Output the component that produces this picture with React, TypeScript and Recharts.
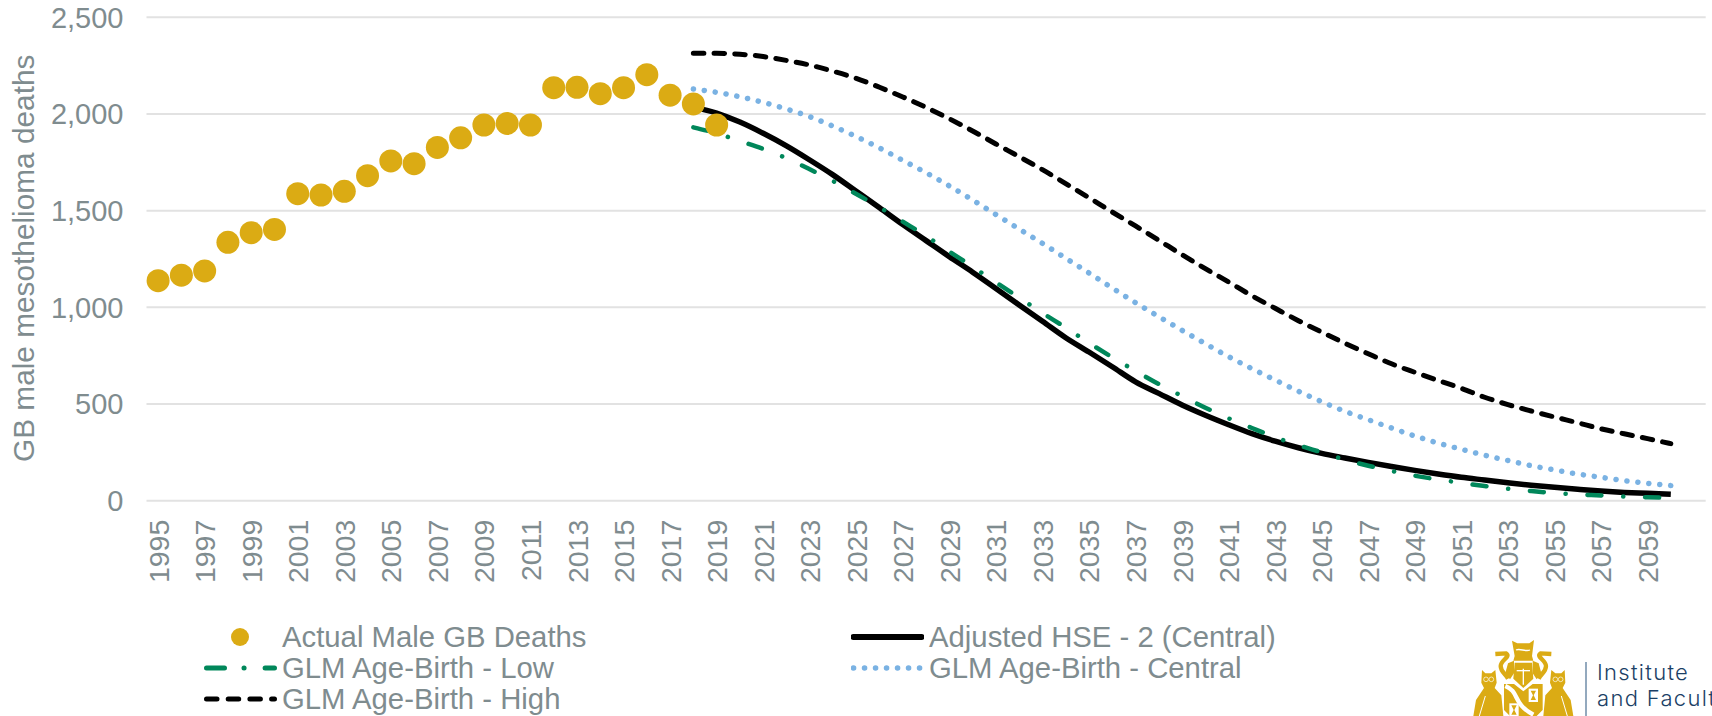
import React from "react";
import {
  ComposedChart,
  Line,
  XAxis,
  YAxis,
  CartesianGrid,
  Legend,
} from "recharts";

const FIRST_YEAR = 1995;
const LAST_YEAR = 2060;

const years: number[] = [];
for (let y = FIRST_YEAR; y <= LAST_YEAR; y++) years.push(y);

const xTicks = years.filter((y) => (y - FIRST_YEAR) % 2 === 0);
const yTicks = [0, 500, 1000, 1500, 2000, 2500];

// 1995 - 2019
const actualDeaths = [
  1138, 1166, 1188, 1336, 1386, 1403, 1588, 1581, 1600, 1681, 1757, 1743, 1827,
  1877, 1943, 1951, 1943, 2136, 2138, 2105, 2136, 2203, 2097, 2052, 1943,
];

// projections, all 2018 - 2060
const PROJECTION_START = 2018;
const adjustedHse = [
  2034, 2005, 1958, 1900, 1835, 1762, 1685, 1600, 1515, 1428, 1345, 1262, 1182,
  1098, 1012, 928, 843, 769, 693, 615, 555, 495, 442, 393, 347, 308, 274, 245,
  221, 198, 177, 157, 138, 121, 107, 93, 80, 69, 59, 50, 43, 38, 33,
];
const glmLow = [
  1931, 1900, 1860, 1819, 1771, 1714, 1653, 1586, 1517, 1443, 1369, 1288, 1210,
  1129, 1050, 971, 895, 816, 742, 671, 603, 541, 481, 426, 376, 328, 287, 250,
  212, 181, 154, 129, 110, 92, 76, 62, 50, 40, 32, 27, 21, 18, 14,
];
const glmCentral = [
  2129, 2112, 2089, 2060, 2026, 1986, 1937, 1883, 1824, 1760, 1696, 1628, 1555,
  1480, 1405, 1331, 1254, 1178, 1100, 1024, 952, 881, 812, 745, 683, 624, 566,
  512, 462, 419, 376, 335, 298, 266, 235, 208, 181, 159, 138, 121, 104, 90, 78,
];
const glmHigh = [
  2314, 2314, 2309, 2297, 2277, 2253, 2221, 2184, 2138, 2088, 2034, 1975, 1912,
  1845, 1779, 1712, 1640, 1567, 1493, 1421, 1347, 1272, 1200, 1131, 1060, 995,
  931, 872, 814, 760, 708, 664, 622, 581, 535, 497, 464, 433, 403, 372, 346,
  321, 295,
];

const data = years.map((year) => {
  const p = year - PROJECTION_START;
  return {
    year,
    actual: actualDeaths[year - FIRST_YEAR] ?? null,
    adjusted: p >= 0 ? adjustedHse[p] : null,
    low: p >= 0 ? glmLow[p] : null,
    central: p >= 0 ? glmCentral[p] : null,
    high: p >= 0 ? glmHigh[p] : null,
  };
});

const GREY = "#7F8C8F";
const GOLD = "#DBAB14";
const GREEN = "#00875A";
const BLUE = "#7AB2E3";
const FONT = "'Liberation Sans', Arial, sans-serif";

const LOW_DASH = "14 21.8 0.1 21.8";
const HIGH_DASH = "10.5 10.2";
const CENTRAL_DASH = "0.1 10.9";

// rotated year labels, top of the text sits at a fixed distance under the grid
function YearTick({ x, y, payload }: any) {
  return (
    <text
      transform={`translate(${x + 10.5},${y}) rotate(-90)`}
      textAnchor="end"
      fontFamily={FONT}
      fontSize={28.5}
      fill={GREY}
    >
      {payload.value}
    </text>
  );
}

function LegendKey({ dash, color, width }: any) {
  return (
    <svg width={73} height={20} style={{ display: "block" }}>
      <line
        x1={2.5}
        x2={70.5}
        y1={10}
        y2={10}
        stroke={color}
        strokeWidth={width}
        strokeLinecap="round"
        strokeDasharray={dash}
      />
    </svg>
  );
}

const legendItems = [
  { name: "Actual Male GB Deaths", left: 204, top: 637, textLeft: 282 },
  { name: "GLM Age-Birth - Low", left: 204, top: 668, textLeft: 282, color: GREEN, dash: "18 19.5 0.1 21 10", width: 5 },
  { name: "GLM Age-Birth - High", left: 204, top: 699, textLeft: 282, color: "#000", dash: "10.5 11.2", width: 5 },
  { name: "Adjusted HSE - 2 (Central)", left: 851, top: 637, textLeft: 929, color: "#000", width: 6 },
  { name: "GLM Age-Birth - Central", left: 851, top: 668, textLeft: 929, color: BLUE, dash: CENTRAL_DASH, width: 5.5 },
];

function ChartLegend() {
  return (
    <div style={{ position: "relative", width: 1712, height: 716 }}>
      {legendItems.map((item) => (
        <React.Fragment key={item.name}>
          <div style={{ position: "absolute", left: item.left, top: item.top - 10 }}>
            {item.color ? (
              <LegendKey color={item.color} dash={item.dash} width={item.width} />
            ) : (
              <svg width={73} height={20} style={{ display: "block" }}>
                <circle cx={36} cy={10} r={9} fill={GOLD} />
              </svg>
            )}
          </div>
          <div
            style={{
              position: "absolute",
              left: item.textLeft,
              top: item.top - 16,
              height: 32,
              lineHeight: "32px",
              fontFamily: FONT,
              fontSize: 29.3,
              color: GREY,
              whiteSpace: "nowrap",
            }}
          >
            {item.name}
          </div>
        </React.Fragment>
      ))}
    </div>
  );
}

// the profession's crest, only roughly traced
function Logo() {
  const half = (
    <g>
      {/* owl */}
      <path
        fill={GOLD}
        d="M126 150 L136 160 L154 160 L166 150 L170 188 L164 204 L184 226 L190 288 L100 288 L108 240 L132 204 L124 188 Z"
      />
      <circle cx={138} cy={178} r={7} fill="none" stroke="#fff" strokeWidth={2} />
      <circle cx={154} cy={178} r={7} fill="none" stroke="#fff" strokeWidth={2} />
      {/* dragon */}
      <path
        fill="none"
        stroke={GOLD}
        strokeWidth={13}
        d="M166 102 L198 100 C214 110 182 120 182 138 C182 156 196 160 204 176"
      />
      <path fill={GOLD} d="M204 130 L222 122 L222 160 L210 178 L196 160 Z" />
    </g>
  );
  return (
    <svg
      viewBox="0 0 816 288"
      width={272}
      height={96}
      style={{ position: "absolute", left: 1440, top: 620 }}
    >
      {half}
      <g transform="translate(500,0) scale(-1,1)">{half}</g>
      <g fill={GOLD}>
        {/* crest on the helm */}
        <path d="M216 62 L232 70 L268 70 L282 60 L276 108 L280 122 L220 122 L224 108 Z" />
        {/* helm */}
        <path d="M224 128 L276 128 L280 176 L250 204 L220 176 Z" />
        {/* shield */}
        <path d="M192 192 L222 192 L250 214 L278 192 L308 192 L308 270 L290 288 L210 288 L192 270 Z" />
      </g>
      <g fill="none" stroke="#fff">
        <path d="M228 90 C240 84 256 96 270 90" strokeWidth={4} />
        <path d="M196 198 C240 216 216 250 280 284" strokeWidth={13} />
        <path d="M250 146 L250 194" strokeWidth={4} />
        <path d="M230 152 L270 152" strokeWidth={4} />
        <path d="M118 288 L136 228" strokeWidth={3} />
        <path d="M382 288 L364 228" strokeWidth={3} />
      </g>
      <g fill="#fff">
        <rect x={266} y={206} width={28} height={40} />
        <rect x={208} y={250} width={28} height={38} />
      </g>
      <g fill={GOLD}>
        <path d="M272 212 L288 212 L281 226 L288 240 L272 240 L279 226 Z" />
        <path d="M214 256 L230 256 L223 270 L230 284 L214 284 L221 270 Z" />
      </g>
      <rect x={436} y={126} width={4} height={162} fill="#5F7F9F" />
    </svg>
  );
}

function LogoText() {
  const style: React.CSSProperties = {
    position: "absolute",
    left: 1597,
    fontFamily: "Inter, sans-serif",
    fontWeight: 300,
    fontSize: 22,
    letterSpacing: 1.3,
    lineHeight: "26px",
    color: "#1B3F66",
    whiteSpace: "nowrap",
  };
  return (
    <>
      <div style={{ ...style, top: 659 }}>Institute</div>
      <div style={{ ...style, top: 685 }}>and Facult</div>
    </>
  );
}

export default function App() {
  return (
    <div
      style={{
        position: "absolute",
        left: 0,
        top: 0,
        width: 1712,
        height: 716,
        overflow: "hidden",
        background: "#fff",
      }}
    >
      <ComposedChart
        width={1712}
        height={716}
        data={data}
        margin={{ top: 17.3, right: 6.3, bottom: 115.3, left: 0 }}
      >
        <CartesianGrid
          horizontal
          vertical={false}
          stroke="#E2E2E2"
          strokeWidth={2}
        />
        <XAxis
          dataKey="year"
          ticks={xTicks}
          interval={0}
          height={100}
          padding={{ left: 11.6, right: 34.9 }}
          axisLine={false}
          tickLine={false}
          tickSize={0}
          tickMargin={19}
          tick={<YearTick />}
        />
        <YAxis
          width={146.5}
          domain={[0, 2500]}
          ticks={yTicks}
          axisLine={false}
          tickLine={false}
          tickSize={0}
          tickMargin={23}
          tickFormatter={(v: number) => v.toLocaleString("en-GB")}
          tick={{ fontFamily: FONT, fontSize: 29, fill: GREY }}
          label={{
            value: "GB male mesothelioma deaths",
            angle: -90,
            position: "insideLeft",
            offset: 0,
            dx: 23,
            dy: 203,
            style: { fontFamily: FONT, fontSize: 29.8, fill: GREY },
          }}
        />
        <Legend
          layout="vertical"
          align="center"
          verticalAlign="middle"
          content={<ChartLegend />}
          wrapperStyle={{ position: "absolute", left: 0, top: 0, width: 1712, height: 716, margin: 0 }}
        />
        <Line
          dataKey="adjusted"
          name="Adjusted HSE - 2 (Central)"
          type="monotone"
          stroke="#000"
          strokeWidth={5.5}
          dot={false}
          isAnimationActive={false}
        />
        <Line
          dataKey="low"
          name="GLM Age-Birth - Low"
          type="monotone"
          stroke={GREEN}
          strokeWidth={4.5}
          strokeLinecap="round"
          strokeDasharray={LOW_DASH}
          dot={false}
          isAnimationActive={false}
        />
        <Line
          dataKey="central"
          name="GLM Age-Birth - Central"
          type="monotone"
          stroke={BLUE}
          strokeWidth={5.5}
          strokeLinecap="round"
          strokeDasharray={CENTRAL_DASH}
          dot={false}
          isAnimationActive={false}
        />
        <Line
          dataKey="high"
          name="GLM Age-Birth - High"
          type="monotone"
          stroke="#000"
          strokeWidth={5}
          strokeLinecap="round"
          strokeDasharray={HIGH_DASH}
          dot={false}
          isAnimationActive={false}
        />
        <Line
          dataKey="actual"
          name="Actual Male GB Deaths"
          stroke="none"
          dot={{ r: 11.5, fill: GOLD, stroke: "none" }}
          isAnimationActive={false}
        />
      </ComposedChart>
      <Logo />
      <LogoText />
    </div>
  );
}
